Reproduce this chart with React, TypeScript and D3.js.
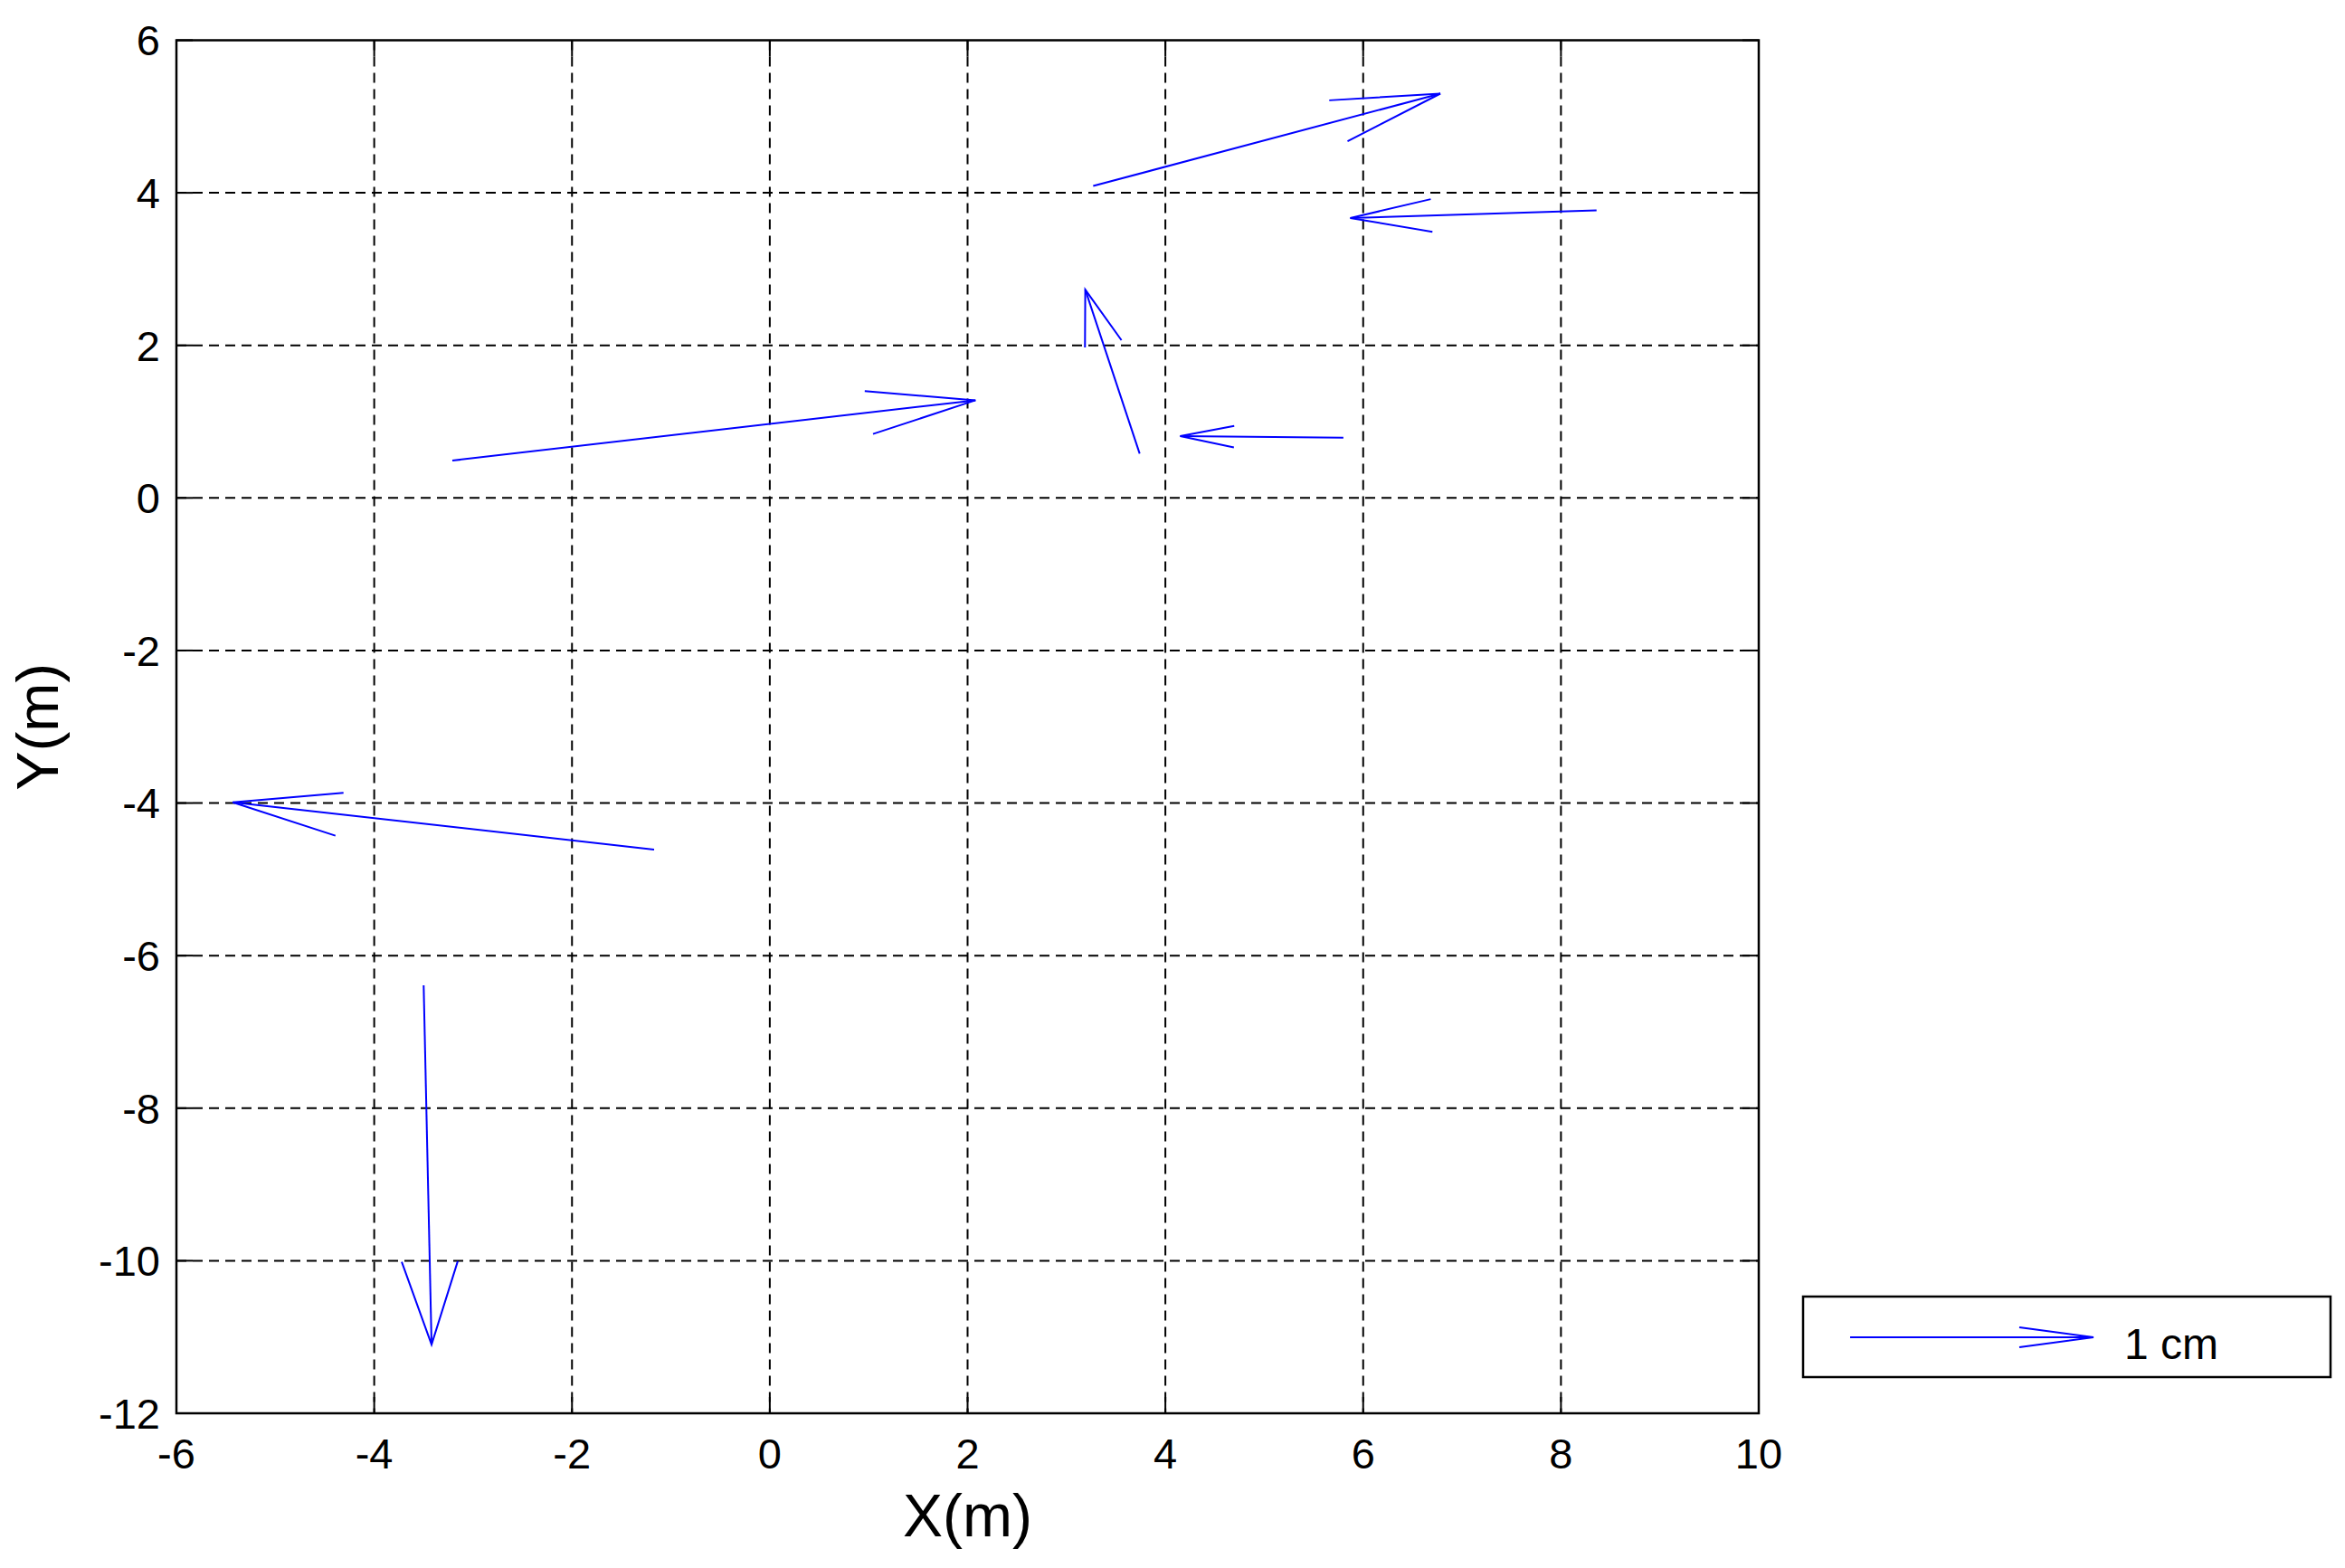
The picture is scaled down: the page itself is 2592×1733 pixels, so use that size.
import * as d3 from "d3";
import React from "react";

// arrow tails (m) and displacement components
const tailX = [3.27, 8.36, 3.74, 5.8, -3.21, -1.17, -3.5];
const tailY = [4.09, 3.77, 0.58, 0.79, 0.49, -4.61, -6.39];
const dispU = [3.51, -2.49, -0.55, -1.65, 5.29, -4.26, 0.08];
const dispV = [1.21, -0.1, 2.15, 0.02, 0.79, 0.62, -4.71];

const xTicks = [-6, -4, -2, 0, 2, 4, 6, 8, 10];
const yTicks = [-12, -10, -8, -6, -4, -2, 0, 2, 4, 6];
const legendLabel = "1 cm";

const W = 2592;
const H = 1733;
const left = 195;
const right = 1944;
const top = 44.5;
const bottom = 1562;
const font = "'Liberation Sans', Arial, sans-serif";
const blue = "#0000ff";

// matlab quiver style head, computed in data units
const head = (x, y, u, v) => {
  const len = Math.sqrt(u * u + v * v);
  const alpha = Math.min(0.33, 1.09 / len);
  const beta = 0.26;
  const tx = x + u;
  const ty = y + v;
  return [
    [tx - alpha * (u + beta * v), ty - alpha * (v - beta * u)],
    [tx, ty],
    [tx - alpha * (u - beta * v), ty - alpha * (v + beta * u)],
  ];
};

const App = () => {
  const x = d3.scaleLinear().domain([-6, 10]).range([left, right]);
  const y = d3.scaleLinear().domain([-12, 6]).range([bottom, top]);
  const line = d3
    .line()
    .x((d) => x(d[0]))
    .y((d) => y(d[1]));

  const arrows = tailX.map((tx, i) => ({
    shaft: [
      [tx, tailY[i]],
      [tx + dispU[i], tailY[i] + dispV[i]],
    ],
    head: head(tx, tailY[i], dispU[i], dispV[i]),
  }));

  const tickLen = 18;

  return (
    <svg
      width={W}
      height={H}
      style={{ position: "absolute", left: 0, top: 0, background: "#fff" }}
    >
      <rect x={0} y={0} width={W} height={H} fill="#fff" />

      {/* grid */}
      {xTicks.slice(1, -1).map((t) => (
        <line
          key={"gx" + t}
          x1={x(t)}
          x2={x(t)}
          y1={top}
          y2={bottom}
          stroke="#000"
          strokeWidth={2}
          strokeDasharray="11,7"
        />
      ))}
      {yTicks.slice(1, -1).map((t) => (
        <line
          key={"gy" + t}
          x1={left}
          x2={right}
          y1={y(t)}
          y2={y(t)}
          stroke="#000"
          strokeWidth={2}
          strokeDasharray="11,7"
        />
      ))}

      {/* inward ticks */}
      {xTicks.map((t) => (
        <g key={"tx" + t} stroke="#000" strokeWidth={2}>
          <line x1={x(t)} x2={x(t)} y1={bottom} y2={bottom - tickLen} />
          <line x1={x(t)} x2={x(t)} y1={top} y2={top + tickLen} />
        </g>
      ))}
      {yTicks.map((t) => (
        <g key={"ty" + t} stroke="#000" strokeWidth={2}>
          <line x1={left} x2={left + tickLen} y1={y(t)} y2={y(t)} />
          <line x1={right} x2={right - tickLen} y1={y(t)} y2={y(t)} />
        </g>
      ))}

      {/* arrows */}
      {arrows.map((a, i) => (
        <g key={"a" + i} fill="none" stroke={blue} strokeWidth={2}>
          <path d={line(a.shaft)} />
          <path d={line(a.head)} />
        </g>
      ))}

      <rect
        x={left}
        y={top}
        width={right - left}
        height={bottom - top}
        fill="none"
        stroke="#000"
        strokeWidth={2.5}
      />

      {/* tick labels */}
      {xTicks.map((t) => (
        <text
          key={"lx" + t}
          x={x(t)}
          y={1623}
          textAnchor="middle"
          fontFamily={font}
          fontSize={47}
        >
          {t}
        </text>
      ))}
      {yTicks.map((t) => (
        <text
          key={"ly" + t}
          x={177}
          y={y(t)}
          dy="0.36em"
          textAnchor="end"
          fontFamily={font}
          fontSize={47}
        >
          {t}
        </text>
      ))}

      {/* axis labels */}
      <text
        x={(left + right) / 2}
        y={1698}
        textAnchor="middle"
        fontFamily={font}
        fontSize={66}
      >
        X(m)
      </text>
      <text
        transform={`translate(64,${(top + bottom) / 2}) rotate(-90)`}
        textAnchor="middle"
        fontFamily={font}
        fontSize={65}
      >
        Y(m)
      </text>

      {/* legend */}
      <rect
        x={1993}
        y={1433}
        width={583}
        height={89}
        fill="#fff"
        stroke="#000"
        strokeWidth={2.5}
      />
      <g fill="none" stroke={blue} strokeWidth={2}>
        <line x1={2045} x2={2314} y1={1478} y2={1478} />
        <path d="M2232,1467L2314,1478L2232,1489" />
      </g>
      <text x={2348} y={1502} fontFamily={font} fontSize={48}>
        {legendLabel}
      </text>
    </svg>
  );
};

export default App;
